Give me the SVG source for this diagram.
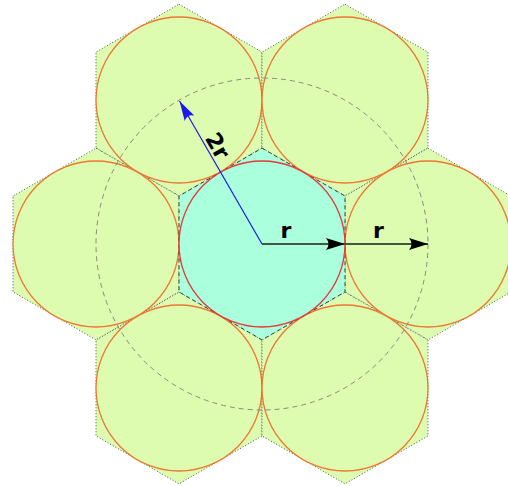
<svg xmlns="http://www.w3.org/2000/svg" width="508" height="486" viewBox="0 0 508 486">
<style>
.hex{fill:#ddfcb0;stroke:#445544;stroke-width:1;stroke-dasharray:1,2}
.cell{fill:#ddfcb0;stroke:#ee7733;stroke-width:1.3}
.chex{fill:#aaffdd;stroke:#334433;stroke-width:1;stroke-dasharray:4,3}
.ccell{fill:#aaffdd;stroke:#e83838;stroke-width:1.3}
.guide{fill:none;stroke:#8a8a7a;stroke-width:1;stroke-dasharray:5,4}
.lbl{font-family:"DejaVu Sans",sans-serif;font-weight:bold;font-size:22px;fill:#000;text-anchor:middle}
</style>
<defs>
<path id="hx" d="M0,-95.84 L83,-47.92 L83,47.92 L0,95.84 L-83,47.92 L-83,-47.92 Z"/>
<marker id="ak" markerUnits="userSpaceOnUse" viewBox="-20 -7 21 14" markerWidth="21" markerHeight="14" refX="0" refY="0" orient="auto">
<path d="M0,0 L-19,-6 Q-14,0 -19,6 Z" fill="#000"/>
</marker>
<marker id="ab" markerUnits="userSpaceOnUse" viewBox="-21 -6 22 12" markerWidth="22" markerHeight="12" refX="0" refY="0" orient="auto">
<path d="M0,0 L-20,-5.5 Q-15,0 -20,5.5 Z" fill="#1a1aee"/>
</marker>
</defs>
<g id="cell-tl" transform="translate(179,100)"><use href="#hx" class="hex"/><circle r="83" class="cell"/></g>
<g id="cell-tr" transform="translate(345,100)"><use href="#hx" class="hex"/><circle r="83" class="cell"/></g>
<g id="cell-l" transform="translate(96,244)"><use href="#hx" class="hex"/><circle r="83" class="cell"/></g>
<g id="cell-r" transform="translate(428,244)"><use href="#hx" class="hex"/><circle r="83" class="cell"/></g>
<g id="cell-bl" transform="translate(179,388)"><use href="#hx" class="hex"/><circle r="83" class="cell"/></g>
<g id="cell-br" transform="translate(345,388)"><use href="#hx" class="hex"/><circle r="83" class="cell"/></g>
<g id="cell-center" transform="translate(262,244)"><use href="#hx" class="chex"/><circle r="83" class="ccell"/></g>
<circle id="guide-2r" cx="262" cy="244" r="166" class="guide"/>
<g id="connectors">
<line x1="262" y1="244" x2="179.5" y2="101" stroke="#1a1aee" stroke-width="1.2" marker-end="url(#ab)"/>
<line x1="262" y1="244" x2="345" y2="244" stroke="#445544" stroke-width="1.8" marker-end="url(#ak)"/>
<line x1="345" y1="244" x2="428" y2="244" stroke="#445544" stroke-width="1.8" marker-end="url(#ak)"/>
</g>
<text class="lbl" x="286" y="238">r</text>
<text class="lbl" x="378.5" y="238">r</text>
<text class="lbl" transform="translate(211,149.5) rotate(60)">2r</text>
</svg>
